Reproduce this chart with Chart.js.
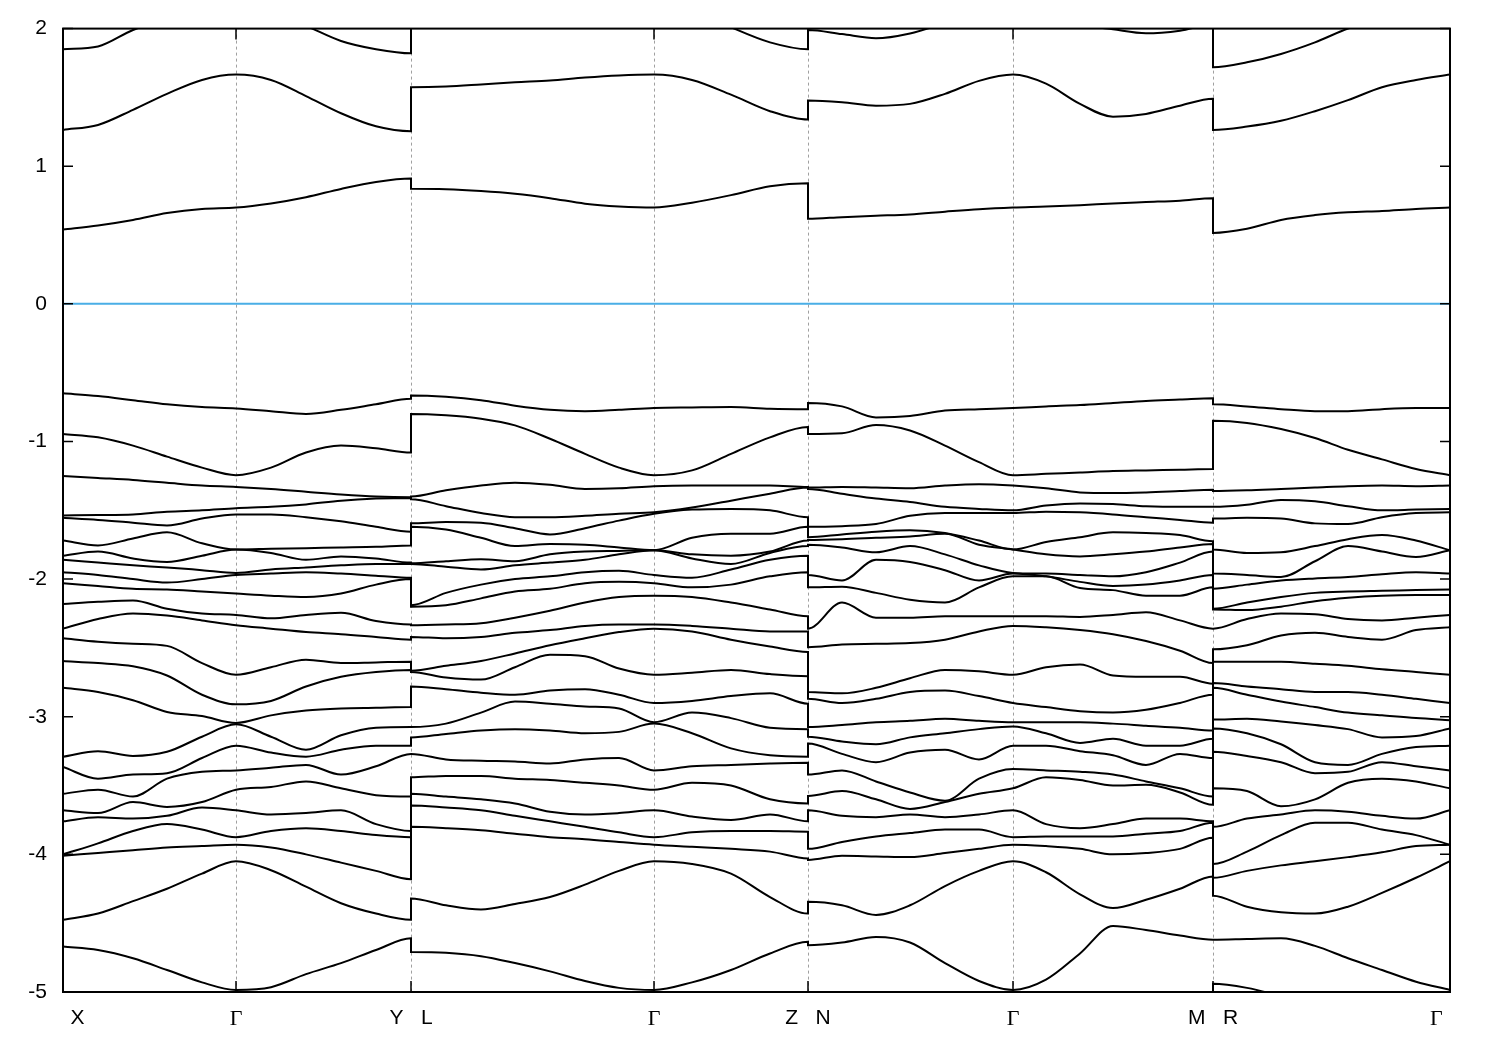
<!DOCTYPE html>
<html>
<head>
<meta charset="utf-8">
<title>Band structure</title>
<script src="https://cdn.jsdelivr.net/npm/chart.js@4.4.1/dist/chart.umd.min.js"></script>
<style>
  html, body { margin: 0; padding: 0; background: #fff; }
  canvas { display: block; }
</style>
</head>
<body>
<canvas id="bands" width="1500" height="1050"></canvas>
<script>
// k-path: X - Γ - Y | L - Γ - Z | N - Γ - M | R - Γ  (path length in arbitrary units)
const kTicks = [0, 173, 348, 591, 745, 950, 1150, 1387];
const kLabels = ["     X", "Γ", "Y   L", "Γ", "Z   N", "Γ", "M   R", "Γ     "];
const kDividers = [173, 348, 591, 745, 950, 1150];
const energyTicks = [2, 1, 0, -1, -2, -3, -4, -5];

// sampled k along each piece of the path
const seg1K = [0, 35, 70, 104, 139, 173, 208, 243, 278, 313, 348];
const seg2K = [348, 383, 418, 452, 487, 522, 556, 591, 629, 668, 707, 745];
const seg3K = [745, 779, 813, 847, 882, 916, 950, 983, 1017, 1050, 1083, 1117, 1150];
const seg4K = [1150, 1184, 1218, 1252, 1285, 1319, 1353, 1387];

// energies (eV) read per piece; every piece has the same number of bands
// X - Γ - Y
const seg1Bands = [
  [1.85, 1.87, 1.99, 2.07, 2.12, 2.15, 2.12, 2.02, 1.91, 1.85, 1.82],
  [1.264, 1.30, 1.41, 1.526, 1.627, 1.666, 1.627, 1.51, 1.385, 1.29, 1.254],
  [0.54, 0.57, 0.61, 0.66, 0.69, 0.70, 0.73, 0.775, 0.835, 0.885, 0.91],
  [-0.65, -0.67, -0.70, -0.73, -0.75, -0.76, -0.78, -0.80, -0.77, -0.73, -0.69],
  [-0.945, -0.97, -1.03, -1.11, -1.19, -1.245, -1.19, -1.08, -1.03, -1.05, -1.08],
  [-1.25, -1.265, -1.28, -1.30, -1.32, -1.33, -1.345, -1.365, -1.385, -1.40, -1.41],
  [-1.537, -1.535, -1.53, -1.51, -1.50, -1.485, -1.475, -1.457, -1.43, -1.415, -1.405],
  [-1.555, -1.57, -1.59, -1.61, -1.56, -1.53, -1.53, -1.55, -1.58, -1.62, -1.655],
  [-1.72, -1.755, -1.705, -1.66, -1.74, -1.785, -1.78, -1.775, -1.77, -1.765, -1.755],
  [-1.83, -1.80, -1.85, -1.875, -1.83, -1.785, -1.81, -1.86, -1.835, -1.85, -1.88],
  [-1.86, -1.88, -1.90, -1.915, -1.935, -1.955, -1.93, -1.915, -1.90, -1.89, -1.89],
  [-1.95, -1.97, -2.0, -2.025, -2.0, -1.97, -1.96, -1.95, -1.96, -1.975, -1.99],
  [-2.03, -2.05, -2.07, -2.075, -2.09, -2.105, -2.12, -2.13, -2.105, -2.04, -2.0],
  [-2.18, -2.165, -2.155, -2.215, -2.25, -2.26, -2.285, -2.26, -2.245, -2.305, -2.33],
  [-2.36, -2.29, -2.25, -2.265, -2.30, -2.335, -2.36, -2.385, -2.40, -2.42, -2.44],
  [-2.43, -2.455, -2.47, -2.485, -2.61, -2.695, -2.64, -2.585, -2.61, -2.605, -2.60],
  [-2.595, -2.61, -2.633, -2.70, -2.84, -2.91, -2.885, -2.78, -2.71, -2.675, -2.66],
  [-2.79, -2.82, -2.88, -2.965, -2.995, -3.045, -2.99, -2.955, -2.94, -2.935, -2.93],
  [-3.29, -3.25, -3.285, -3.255, -3.145, -3.055, -3.145, -3.24, -3.135, -3.08, -3.075],
  [-3.56, -3.53, -3.58, -3.45, -3.30, -3.21, -3.26, -3.29, -3.24, -3.21, -3.21],
  [-3.365, -3.45, -3.42, -3.41, -3.40, -3.39, -3.37, -3.35, -3.42, -3.36, -3.27],
  [-3.68, -3.70, -3.62, -3.655, -3.62, -3.53, -3.51, -3.47, -3.52, -3.57, -3.58],
  [-3.76, -3.73, -3.74, -3.72, -3.66, -3.68, -3.71, -3.70, -3.68, -3.78, -3.83],
  [-4.0, -3.92, -3.83, -3.78, -3.82, -3.875, -3.83, -3.81, -3.83, -3.86, -3.875],
  [-4.01, -3.99, -3.97, -3.95, -3.94, -3.93, -3.95, -4.00, -4.06, -4.12, -4.18],
  [-4.475, -4.43, -4.34, -4.25, -4.14, -4.05, -4.115, -4.235, -4.355, -4.43, -4.475],
  [-4.67, -4.695, -4.755, -4.84, -4.93, -4.985, -4.965, -4.87, -4.79, -4.695, -4.61],
  [-5.4, -5.4, -5.45, -5.5, -5.5, -5.5, -5.5, -5.45, -5.4, -5.35, -5.3]
];

// L - Γ - Z
const seg2Bands = [
  [2.3, 2.3, 2.3, 2.3, 2.28, 2.25, 2.22, 2.2, 2.14, 2.01, 1.90, 1.85],
  [1.574, 1.579, 1.594, 1.61, 1.623, 1.645, 1.66, 1.666, 1.627, 1.52, 1.40, 1.339],
  [0.836, 0.833, 0.82, 0.80, 0.768, 0.728, 0.708, 0.70, 0.735, 0.79, 0.855, 0.876],
  [-0.665, -0.675, -0.70, -0.74, -0.77, -0.78, -0.77, -0.757, -0.753, -0.75, -0.762, -0.765],
  [-0.80, -0.81, -0.835, -0.883, -0.98, -1.09, -1.19, -1.245, -1.21, -1.09, -0.97, -0.895],
  [-1.40, -1.355, -1.32, -1.30, -1.315, -1.345, -1.34, -1.325, -1.32, -1.32, -1.32, -1.33],
  [-1.42, -1.47, -1.52, -1.55, -1.55, -1.54, -1.525, -1.515, -1.48, -1.43, -1.38, -1.335],
  [-1.595, -1.585, -1.59, -1.63, -1.675, -1.63, -1.575, -1.525, -1.495, -1.49, -1.50, -1.55],
  [-1.62, -1.64, -1.70, -1.76, -1.745, -1.75, -1.77, -1.79, -1.82, -1.83, -1.81, -1.76],
  [-1.885, -1.87, -1.855, -1.87, -1.82, -1.80, -1.795, -1.79, -1.70, -1.67, -1.67, -1.62],
  [-1.89, -1.91, -1.93, -1.90, -1.88, -1.86, -1.82, -1.79, -1.85, -1.89, -1.80, -1.72],
  [-2.19, -2.10, -2.04, -2.00, -1.98, -1.95, -1.94, -1.97, -1.99, -1.93, -1.86, -1.83],
  [-2.20, -2.19, -2.14, -2.09, -2.07, -2.03, -2.02, -2.03, -2.06, -2.04, -1.98, -1.95],
  [-2.335, -2.33, -2.32, -2.28, -2.23, -2.17, -2.13, -2.12, -2.13, -2.17, -2.22, -2.27],
  [-2.42, -2.43, -2.42, -2.39, -2.37, -2.34, -2.33, -2.33, -2.34, -2.36, -2.38, -2.38],
  [-2.665, -2.63, -2.595, -2.54, -2.48, -2.43, -2.385, -2.36, -2.38, -2.44, -2.49, -2.53],
  [-2.675, -2.715, -2.73, -2.64, -2.55, -2.56, -2.65, -2.695, -2.68, -2.66, -2.69, -2.705],
  [-2.78, -2.80, -2.825, -2.84, -2.81, -2.80, -2.84, -2.90, -2.885, -2.85, -2.83, -2.905],
  [-3.075, -3.05, -2.97, -2.89, -2.905, -2.925, -2.94, -3.04, -2.97, -3.01, -3.08, -3.09],
  [-3.15, -3.125, -3.10, -3.09, -3.10, -3.12, -3.11, -3.05, -3.12, -3.23, -3.28, -3.29],
  [-3.27, -3.31, -3.32, -3.325, -3.34, -3.31, -3.30, -3.39, -3.36, -3.35, -3.34, -3.335],
  [-3.44, -3.43, -3.43, -3.45, -3.46, -3.48, -3.50, -3.53, -3.48, -3.50, -3.60, -3.63],
  [-3.56, -3.58, -3.60, -3.63, -3.69, -3.71, -3.70, -3.68, -3.725, -3.75, -3.71, -3.76],
  [-3.645, -3.66, -3.68, -3.72, -3.76, -3.80, -3.84, -3.875, -3.84, -3.83, -3.83, -3.835],
  [-3.80, -3.81, -3.825, -3.85, -3.875, -3.89, -3.91, -3.93, -3.945, -3.96, -3.98, -4.03],
  [-4.32, -4.37, -4.40, -4.36, -4.31, -4.22, -4.12, -4.05, -4.07, -4.14, -4.31, -4.43],
  [-4.71, -4.715, -4.74, -4.79, -4.85, -4.92, -4.97, -4.985, -4.93, -4.84, -4.72, -4.635],
  [-5.3, -5.35, -5.4, -5.45, -5.5, -5.5, -5.5, -5.5, -5.45, -5.4, -5.35, -5.3]
];

// N - Γ - M
const seg3Bands = [
  [1.99, 1.96, 1.93, 1.965, 2.04, 2.11, 2.15, 2.10, 2.03, 1.995, 1.966, 1.985, 2.03],
  [1.477, 1.465, 1.44, 1.453, 1.526, 1.62, 1.666, 1.60, 1.453, 1.36, 1.38, 1.44, 1.49],
  [0.618, 0.63, 0.64, 0.65, 0.67, 0.688, 0.70, 0.707, 0.717, 0.73, 0.74, 0.75, 0.768],
  [-0.72, -0.745, -0.825, -0.815, -0.775, -0.765, -0.757, -0.745, -0.735, -0.72, -0.705, -0.695, -0.685],
  [-0.945, -0.94, -0.88, -0.92, -1.03, -1.15, -1.245, -1.235, -1.225, -1.215, -1.21, -1.205, -1.20],
  [-1.335, -1.33, -1.335, -1.34, -1.32, -1.31, -1.32, -1.34, -1.37, -1.375, -1.37, -1.36, -1.35],
  [-1.345, -1.38, -1.415, -1.44, -1.475, -1.49, -1.50, -1.465, -1.45, -1.455, -1.47, -1.475, -1.475],
  [-1.62, -1.615, -1.60, -1.54, -1.52, -1.52, -1.52, -1.51, -1.515, -1.53, -1.55, -1.57, -1.59],
  [-1.695, -1.675, -1.655, -1.645, -1.67, -1.75, -1.785, -1.82, -1.835, -1.82, -1.80, -1.77, -1.745],
  [-1.715, -1.71, -1.70, -1.69, -1.665, -1.72, -1.785, -1.73, -1.695, -1.66, -1.665, -1.68, -1.725],
  [-1.75, -1.77, -1.805, -1.76, -1.82, -1.90, -1.955, -1.96, -1.97, -1.98, -1.95, -1.88, -1.80],
  [-1.97, -2.01, -1.86, -1.875, -1.935, -2.01, -1.96, -1.98, -2.065, -2.05, -2.04, -2.01, -1.97],
  [-2.06, -2.055, -2.10, -2.15, -2.17, -2.06, -1.98, -1.98, -2.02, -2.08, -2.12, -2.12, -2.06],
  [-2.36, -2.17, -2.28, -2.28, -2.27, -2.27, -2.27, -2.27, -2.275, -2.26, -2.24, -2.30, -2.36],
  [-2.495, -2.475, -2.47, -2.465, -2.44, -2.38, -2.34, -2.35, -2.37, -2.40, -2.45, -2.52, -2.61],
  [-2.82, -2.83, -2.79, -2.72, -2.66, -2.67, -2.695, -2.64, -2.62, -2.70, -2.71, -2.71, -2.76],
  [-2.87, -2.90, -2.87, -2.82, -2.81, -2.85, -2.90, -2.93, -2.96, -2.97, -2.95, -2.90, -2.84],
  [-3.075, -3.06, -3.04, -3.03, -3.015, -3.03, -3.04, -3.04, -3.04, -3.05, -3.065, -3.08, -3.10],
  [-3.145, -3.18, -3.20, -3.15, -3.12, -3.09, -3.07, -3.12, -3.19, -3.16, -3.21, -3.21, -3.16],
  [-3.195, -3.27, -3.33, -3.26, -3.24, -3.31, -3.21, -3.21, -3.25, -3.28, -3.35, -3.27, -3.30],
  [-3.42, -3.39, -3.47, -3.55, -3.62, -3.45, -3.38, -3.39, -3.46, -3.50, -3.495, -3.55, -3.64],
  [-3.575, -3.54, -3.60, -3.67, -3.61, -3.56, -3.52, -3.44, -3.40, -3.42, -3.47, -3.52, -3.58],
  [-3.68, -3.72, -3.73, -3.71, -3.73, -3.71, -3.68, -3.78, -3.81, -3.78, -3.74, -3.74, -3.76],
  [-3.96, -3.91, -3.87, -3.845, -3.82, -3.82, -3.875, -3.87, -3.87, -3.87, -3.85, -3.83, -3.77],
  [-4.04, -4.01, -4.015, -4.02, -3.99, -3.96, -3.93, -3.94, -3.96, -4.00, -3.99, -3.96, -3.88],
  [-4.345, -4.37, -4.44, -4.37, -4.23, -4.12, -4.05, -4.13, -4.29, -4.39, -4.33, -4.25, -4.16],
  [-4.66, -4.64, -4.60, -4.64, -4.79, -4.92, -4.985, -4.91, -4.72, -4.52, -4.55, -4.59, -4.62],
  [-5.3, -5.35, -5.4, -5.45, -5.5, -5.5, -5.5, -5.5, -5.45, -5.4, -5.35, -5.3, -5.2]
];

// R - Γ
const seg4Bands = [
  [1.72, 1.755, 1.816, 1.90, 2.0, 2.07, 2.12, 2.15],
  [1.264, 1.288, 1.33, 1.40, 1.48, 1.574, 1.627, 1.666],
  [0.515, 0.545, 0.61, 0.645, 0.665, 0.675, 0.69, 0.70],
  [-0.73, -0.745, -0.765, -0.78, -0.78, -0.765, -0.757, -0.757],
  [-0.85, -0.865, -0.91, -0.975, -1.06, -1.13, -1.20, -1.245],
  [-1.36, -1.355, -1.345, -1.335, -1.325, -1.32, -1.325, -1.32],
  [-1.475, -1.46, -1.425, -1.435, -1.47, -1.50, -1.495, -1.49],
  [-1.56, -1.555, -1.56, -1.595, -1.60, -1.55, -1.52, -1.515],
  [-1.785, -1.81, -1.805, -1.76, -1.71, -1.68, -1.72, -1.79],
  [-1.96, -1.97, -1.985, -1.87, -1.76, -1.80, -1.84, -1.79],
  [-2.07, -2.04, -2.01, -1.995, -1.985, -1.965, -1.95, -1.96],
  [-2.22, -2.17, -2.13, -2.10, -2.09, -2.085, -2.08, -2.075],
  [-2.215, -2.225, -2.20, -2.16, -2.135, -2.12, -2.115, -2.115],
  [-2.36, -2.29, -2.25, -2.255, -2.29, -2.30, -2.28, -2.26],
  [-2.51, -2.48, -2.41, -2.39, -2.42, -2.44, -2.37, -2.35],
  [-2.60, -2.60, -2.60, -2.615, -2.63, -2.655, -2.675, -2.695],
  [-2.755, -2.78, -2.80, -2.82, -2.82, -2.84, -2.87, -2.90],
  [-2.79, -2.84, -2.89, -2.93, -2.97, -2.99, -3.01, -3.025],
  [-3.02, -3.015, -3.035, -3.06, -3.09, -3.15, -3.14, -3.085],
  [-3.085, -3.12, -3.20, -3.33, -3.35, -3.27, -3.22, -3.21],
  [-3.255, -3.285, -3.33, -3.41, -3.40, -3.33, -3.36, -3.39],
  [-3.52, -3.54, -3.65, -3.60, -3.48, -3.45, -3.47, -3.52],
  [-3.80, -3.74, -3.71, -3.68, -3.69, -3.72, -3.74, -3.68],
  [-4.07, -3.98, -3.86, -3.77, -3.77, -3.82, -3.86, -3.93],
  [-4.17, -4.12, -4.08, -4.05, -4.02, -3.985, -3.94, -3.93],
  [-4.30, -4.38, -4.42, -4.43, -4.38, -4.28, -4.17, -4.05],
  [-4.62, -4.615, -4.61, -4.665, -4.755, -4.84, -4.925, -4.985],
  [-4.94, -4.97, -5.03, -5.1, -5.15, -5.2, -5.25, -5.3]
];

// band index = energy order at each k, so bands join across the path breaks
function orderedBands(ks, curves) {
  const out = curves.map(() => []);
  ks.forEach((k, j) => {
    const vals = curves.map(c => c[j]).sort((a, b) => b - a);
    vals.forEach((v, i) => out[i].push({ x: k, y: v }));
  });
  return out;
}

const pieces = [
  orderedBands(seg1K, seg1Bands),
  orderedBands(seg2K, seg2Bands),
  orderedBands(seg3K, seg3Bands),
  orderedBands(seg4K, seg4Bands)
];

const datasets = pieces[0].map((_, i) => ({
  data: pieces.flatMap(p => p[i]),
  borderColor: "#000",
  borderWidth: 2,
  pointRadius: 0,
  fill: false,
  cubicInterpolationMode: "monotone"
}));

// Fermi level
datasets.push({
  data: [{ x: kTicks[0], y: 0 }, { x: kTicks[kTicks.length - 1], y: 0 }],
  borderColor: "#4aaee6",
  borderWidth: 2,
  pointRadius: 0,
  fill: false
});

const frame = {
  id: "frame",
  beforeDatasetsDraw(chart) {
    const { ctx, chartArea: a, scales: { x } } = chart;
    ctx.save();
    ctx.strokeStyle = "#a0a0a0";
    ctx.lineWidth = 1;
    ctx.setLineDash([3, 3]);
    ctx.beginPath();
    kDividers.forEach(k => {
      const px = Math.round(x.getPixelForValue(k)) + 0.5;
      ctx.moveTo(px, a.top);
      ctx.lineTo(px, a.bottom);
    });
    ctx.stroke();
    ctx.restore();
  },
  afterDatasetsDraw(chart) {
    const { ctx, chartArea: a, scales: { x, y } } = chart;
    ctx.save();
    ctx.strokeStyle = "#000";
    ctx.lineWidth = 2;
    ctx.strokeRect(a.left, a.top, a.right - a.left, a.bottom - a.top);
    ctx.lineWidth = 1.5;
    ctx.beginPath();
    energyTicks.forEach(v => {
      const py = y.getPixelForValue(v);
      ctx.moveTo(a.left, py); ctx.lineTo(a.left + 10, py);
      ctx.moveTo(a.right, py); ctx.lineTo(a.right - 10, py);
    });
    kTicks.forEach(k => {
      const px = x.getPixelForValue(k);
      ctx.moveTo(px, a.bottom); ctx.lineTo(px, a.bottom - 11);
      ctx.moveTo(px, a.top); ctx.lineTo(px, a.top + 11);
    });
    ctx.stroke();
    ctx.restore();
  }
};

const sansFont = { family: "'Liberation Sans', Arial, sans-serif", size: 21 };
const greekFont = { family: "'Liberation Serif', 'DejaVu Serif', serif", size: 22 };

new Chart(document.getElementById("bands"), {
  type: "line",
  data: { datasets },
  options: {
    responsive: false,
    animation: false,
    devicePixelRatio: 1,
    layout: { padding: { top: 28, right: 50, left: 0, bottom: 0 } },
    plugins: { legend: { display: false }, tooltip: { enabled: false } },
    scales: {
      x: {
        type: "linear",
        min: kTicks[0],
        max: kTicks[kTicks.length - 1],
        grid: { display: false, drawTicks: false },
        border: { display: false },
        afterBuildTicks: s => { s.ticks = kTicks.map(v => ({ value: v })); },
        afterFit: s => { s.height = 58; },
        ticks: {
          autoSkip: false,
          maxRotation: 0,
          padding: 14,
          color: "#000",
          font: c => (kLabels[c.index] || "").trim() === "Γ" ? greekFont : sansFont,
          callback: (v, i) => kLabels[i]
        }
      },
      y: {
        min: -5,
        max: 2,
        grid: { display: false, drawTicks: false },
        border: { display: false },
        afterBuildTicks: s => { s.ticks = energyTicks.map(v => ({ value: v })); },
        afterFit: s => { s.width = 63; },
        ticks: {
          padding: 16,
          color: "#000",
          font: sansFont,
          callback: v => String(v)
        }
      }
    }
  },
  plugins: [frame]
});
</script>
</body>
</html>
